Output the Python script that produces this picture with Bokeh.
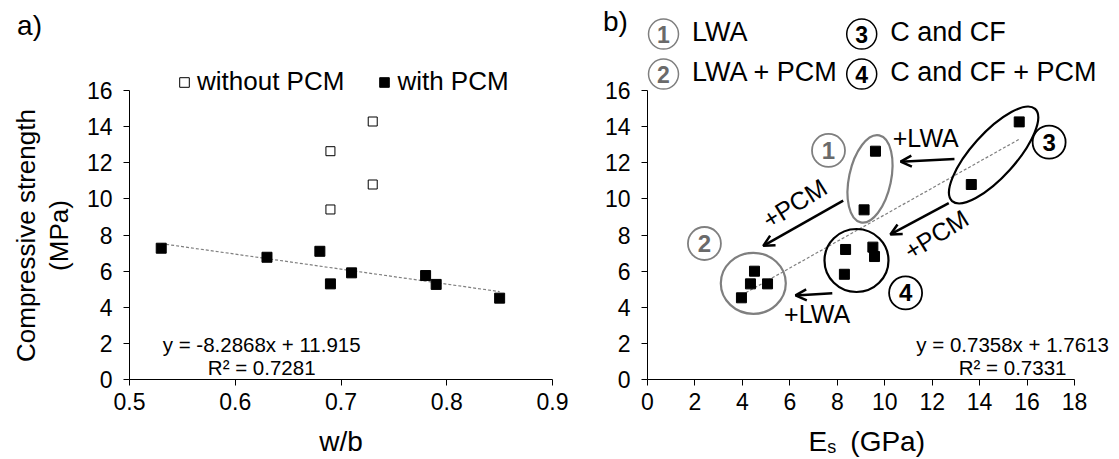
import math

from bokeh.core.properties import value
from bokeh.embed import file_html
from bokeh.layouts import row
from bokeh.models import (Arrow, FixedTicker, Label, Legend, LegendItem,
                          OpenHead, Range1d)
from bokeh.plotting import figure
from bokeh.resources import INLINE

FONT = "Liberation Sans"
GREY = "#7f7f7f"

# ---------------- data ----------------
# a) compressive strength against water/binder ratio
wb_without_pcm = [0.69, 0.69, 0.73, 0.73]
fc_without_pcm = [12.63, 9.41, 14.27, 10.79]
wb_with_pcm = [0.53, 0.63, 0.68, 0.69, 0.71, 0.78, 0.79, 0.85]
fc_with_pcm = [7.27, 6.77, 7.10, 5.30, 5.91, 5.76, 5.27, 4.51]
fit_a_slope, fit_a_icept, fit_a_r2 = -8.2868, 11.915, 0.7281

# b) compressive strength against elastic modulus, per mix group
es_lwa = [9.61, 9.13]
fc_lwa = [12.63, 9.39]
es_lwa_pcm = [4.51, 4.34, 5.06, 3.96]
fc_lwa_pcm = [6.00, 5.30, 5.30, 4.53]
es_ccf = [15.67, 13.65]
fc_ccf = [14.25, 10.79]
es_ccf_pcm = [8.35, 8.30, 9.50, 9.57]
fc_ccf_pcm = [7.20, 5.83, 7.33, 6.81]
fit_b_slope, fit_b_icept, fit_b_r2 = 0.7358, 1.7613, 0.7331

group_numbers = ["1", "2", "3", "4"]
group_names = ["LWA", "LWA + PCM", "C and CF", "C and CF + PCM"]
group_colors = [GREY, GREY, "black", "black"]
number_colors = ["#6a6a6a", "#6a6a6a", "black", "black"]

x_ticks_a = [0.5, 0.6, 0.7, 0.8, 0.9]
x_ticks_b = [0, 2, 4, 6, 8, 10, 12, 14, 16, 18]
y_ticks = [0, 2, 4, 6, 8, 10, 12, 14, 16]

# ---------------- layout ----------------
# Each panel's plotting area spans its whole canvas; the axes are pinned
# at the data origin so that titles, keys and notes around them stay visible.
H = 459
Y0_PX = 379.3                      # pixel row of strength = 0
PX_PER_Y = (379.3 - 89.7) / 16.0
Y_RANGE = (-(H - Y0_PX) / PX_PER_Y, Y0_PX / PX_PER_Y)
EQ_SIZE = "20.5px"
TITLE_SIZE = "28px"


def make_fig(width, x_lo, x_hi, x_bounds, xticks):
    px_per_x = (x_hi[1] - x_lo[1]) / (x_hi[0] - x_lo[0])
    start = x_lo[0] - x_lo[1] / px_per_x
    end = start + width / px_per_x
    p = figure(width=width, height=H, output_backend="svg",
               toolbar_location=None,
               x_range=Range1d(start, end), y_range=Range1d(*Y_RANGE),
               min_border_left=0, min_border_right=0,
               min_border_top=0, min_border_bottom=0)
    p.outline_line_color = None
    p.xgrid.visible = False
    p.ygrid.visible = False
    p.background_fill_color = "white"
    p.border_fill_color = "white"
    for ax in (p.xaxis[0], p.yaxis[0]):
        ax.axis_line_color = "black"
        ax.axis_line_width = 1
        ax.major_tick_line_color = "black"
        ax.major_tick_in = 0
        ax.major_tick_out = 6
        ax.minor_tick_line_color = None
        ax.major_label_text_font = FONT
        ax.major_label_text_font_size = "23px"
        ax.major_label_text_color = "black"
    p.xaxis.ticker = FixedTicker(ticks=xticks)
    p.yaxis.ticker = FixedTicker(ticks=y_ticks)
    p.xaxis.bounds = x_bounds
    p.yaxis.bounds = (0, 16)
    p.xaxis.fixed_location = 0
    p.yaxis.fixed_location = x_bounds[0]
    p.xaxis.major_label_standoff = 7
    p.yaxis.major_label_standoff = 11
    return p


def label(p, x, y, text, size, **kw):
    opts = dict(text_font=FONT, text_font_size=size, text_color="black",
                text_align="center", text_baseline="middle")
    opts.update(kw)
    p.add_layout(Label(x=x, y=y, text=text, **opts))


# ================= panel a =================
# (value, pixel) pairs for the axis ends: 0.5 -> 129 px, 0.9 -> 552 px
pa = make_fig(590, (0.5, 129), (0.9, 552), (0.5, 0.9), x_ticks_a)

fit_x = [min(wb_with_pcm), max(wb_with_pcm)]
pa.line(fit_x, [fit_a_slope * v + fit_a_icept for v in fit_x],
        line_color=GREY, line_width=1.2, line_dash="3 2")

r_open = pa.scatter(wb_without_pcm, fc_without_pcm, marker="square", size=9,
                    fill_color="white", line_color="black", line_width=1)
r_fill = pa.scatter(wb_with_pcm, fc_with_pcm, marker="square", size=10,
                    fill_color="black", line_color="black")

legend = Legend(items=[LegendItem(label="without PCM", renderers=[r_open]),
                       LegendItem(label="with PCM", renderers=[r_fill])],
                orientation="horizontal", location=(172, 362),
                glyph_width=24, glyph_height=24, label_standoff=1,
                spacing=28, padding=0, margin=0,
                border_line_color=None, background_fill_alpha=0,
                label_text_font=FONT, label_text_font_size="26px",
                label_text_color="black")
pa.add_layout(legend)

label(pa, 0.625, 1.95, f"y = {fit_a_slope}x + {fit_a_icept}", EQ_SIZE)
label(pa, 0.625, 0.68, f"R² = {fit_a_r2}", EQ_SIZE)

label(pa, 0.4055, 19.6, "a)", TITLE_SIZE)
label(pa, 0.4026, 7.97, "Compressive strength", "26px", angle=math.pi / 2)
label(pa, 0.4329, 7.97, "(MPa)", "26px", angle=math.pi / 2)
label(pa, 0.7, -3.41, "w/b", TITLE_SIZE, text_baseline="alphabetic")

# ================= panel b =================
# 0 -> 647 px, 18 -> 1074 px on the page; the panel starts at 590 px
pb = make_fig(529, (0, 647 - 590), (18, 1074 - 590), (0, 18), x_ticks_b)

es_all = es_lwa + es_lwa_pcm + es_ccf + es_ccf_pcm
fit_xb = [min(es_all), max(es_all)]
pb.line(fit_xb, [fit_b_slope * v + fit_b_icept for v in fit_xb],
        line_color=GREY, line_width=1.2, line_dash="3 2")

# group outlines
pb.ellipse(x=[9.38, 4.46, 14.59, 8.81], y=[11.1, 5.33, 12.42, 6.59],
           width=[42, 65, 124, 64], height=[89, 61, 44, 63],
           angle=[math.radians(-12), 0, math.radians(48), 0],
           width_units="screen", height_units="screen",
           fill_color=None, line_color=group_colors, line_width=2.2)

for xs, ys in ((es_lwa, fc_lwa), (es_lwa_pcm, fc_lwa_pcm),
               (es_ccf, fc_ccf), (es_ccf_pcm, fc_ccf_pcm)):
    pb.scatter(xs, ys, marker="square", size=10,
               fill_color="black", line_color="black")

# circled group numbers next to each group
tag_x = [7.63, 2.40, 16.93, 10.88]
tag_y = [12.67, 7.53, 13.13, 4.80]
pb.scatter(tag_x, tag_y, marker="circle", size=33, fill_color=None,
           line_color=group_colors, line_width=1.8)
pb.text(tag_x, tag_y, text=group_numbers, text_font=value(FONT),
        text_font_style="bold", text_font_size="24px",
        text_color=number_colors, text_align="center", text_baseline="middle")

# key at the top
key_x = [0.675, 0.675, 9.03, 9.03]
key_y = [19.1, 16.89, 19.1, 16.89]
pb.scatter(key_x, key_y, marker="circle", size=30, fill_color=None,
           line_color=group_colors, line_width=1.5)
pb.text(key_x, key_y, text=group_numbers, text_font=value(FONT),
        text_font_style="bold", text_font_size="23px",
        text_color=number_colors, text_align="center", text_baseline="middle")
for kx, ky, name in zip(key_x, key_y, group_names):
    label(pb, kx + 1.2, ky + 0.12, name, "27px", text_align="left")

# effect arrows
arrows = [((12.94, 12.2), (10.67, 12.05)),
          ((8.25, 9.9), (4.88, 7.4)),
          ((12.7, 9.76), (10.24, 8.03)),
          ((7.79, 4.78), (6.24, 4.66))]
for (x0, y0), (x1, y1) in arrows:
    pb.add_layout(Arrow(end=OpenHead(size=11, line_width=2.5, line_color="black"),
                        x_start=x0, y_start=y0, x_end=x1, y_end=y1,
                        line_width=2.5, line_color="black"))
label(pb, 11.73, 13.36, "+LWA", "25px")
label(pb, 6.2, 9.75, "+PCM", "25px", angle=math.radians(32))
label(pb, 12.17, 8.03, "+PCM", "25px", angle=math.radians(32))
label(pb, 7.15, 3.61, "+LWA", "25px")

label(pb, 15.39, 1.95, f"y = {fit_b_slope}x + {fit_b_icept}", EQ_SIZE)
label(pb, 15.39, 0.68, f"R² = {fit_b_r2}", EQ_SIZE)

label(pb, -1.35, 19.8, "b)", TITLE_SIZE)
# x title: E with subscript s, then the unit
label(pb, 6.79, -3.41, "E", TITLE_SIZE, text_align="left", text_baseline="alphabetic")
label(pb, 7.58, -3.69, "s", "18px", text_align="left", text_baseline="alphabetic")
label(pb, 8.55, -3.41, "(GPa)", TITLE_SIZE, text_align="left", text_baseline="alphabetic")

layout = row(pa, pb)
open("out.html", "w").write(file_html(layout, INLINE))
